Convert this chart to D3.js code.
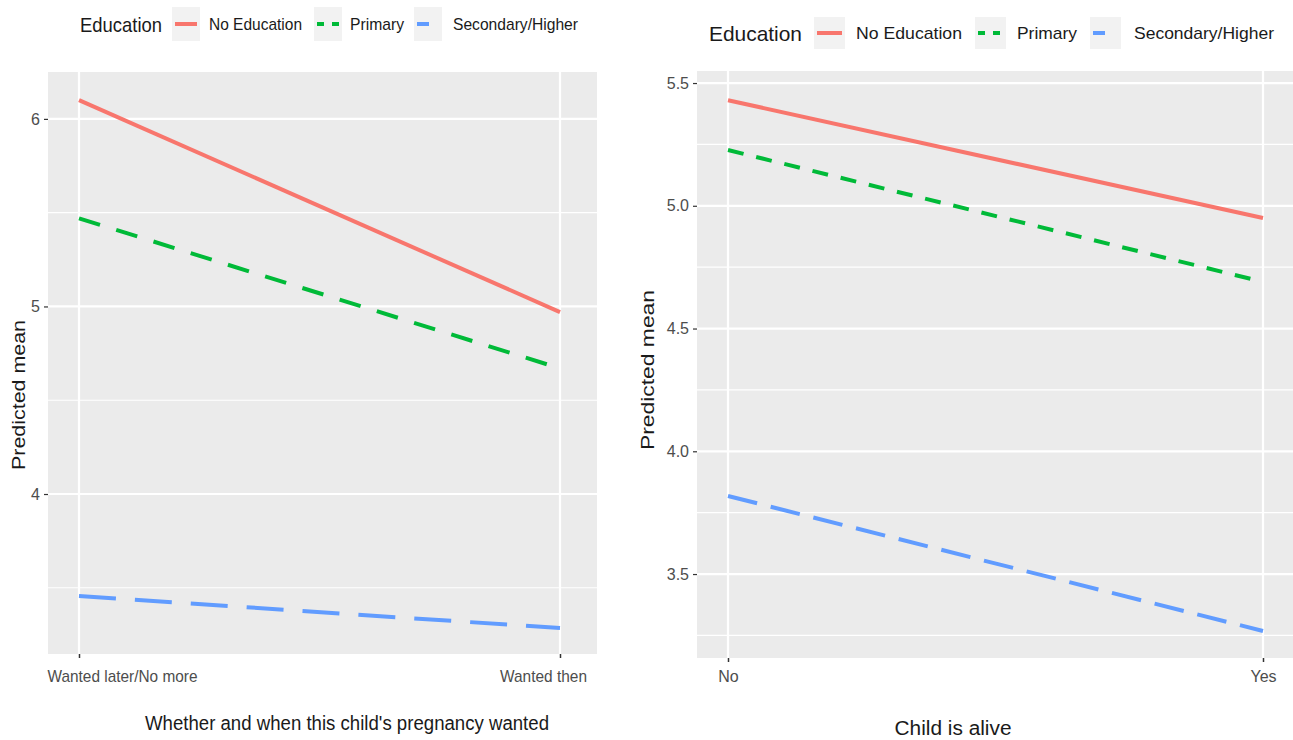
<!DOCTYPE html>
<html>
<head>
<meta charset="utf-8">
<script src="https://cdn.jsdelivr.net/npm/d3@7"></script>
<style>
  body { margin: 0; background: #fff; }
  text { font-family: "Liberation Sans", Arial, sans-serif; }
</style>
</head>
<body>
<svg width="1293" height="740"></svg>
<script>
// --- data ---
const educationLevels = ["No Education", "Primary", "Secondary/Higher"];
const educationColors = ["#F8766D", "#00BA38", "#619CFF"];

const wantedCategories = ["Wanted later/No more", "Wanted then"];
const wantedNoEducation = [6.10, 4.97];
const wantedPrimary = [5.47, 4.67];
const wantedSecondary = [3.456, 3.285];
const wantedTicks = [4, 5, 6];

const aliveCategories = ["No", "Yes"];
const aliveNoEducation = [5.43, 4.95];
const alivePrimary = [5.227, 4.69];
const aliveSecondary = [3.818, 3.268];
const aliveTicks = [3.5, 4.0, 4.5, 5.0, 5.5];

const svg = d3.select("svg");

// squeeze/stretch text to a given width like the picture
function fit(sel, len) {
  if (len) sel.attr("textLength", len).attr("lengthAdjust", "spacingAndGlyphs");
  return sel;
}

function drawPanel(p) {
  const g = svg.append("g");

  const x = d3.scalePoint().domain(p.cats).range(p.xRange);
  const y = d3.scaleLinear().domain(p.yDomain).range([p.bottom, p.top]);

  g.append("rect")
    .attr("x", p.left).attr("y", p.top)
    .attr("width", p.right - p.left).attr("height", p.bottom - p.top)
    .attr("fill", "#EBEBEB");

  // minor grid (half way between major ticks)
  const step = p.ticks[1] - p.ticks[0];
  const minor = [p.ticks[0] - step / 2].concat(p.ticks.map(t => t + step / 2))
    .filter(v => v > p.yDomain[0] && v < p.yDomain[1]);
  g.selectAll(".minor").data(minor).enter().append("line")
    .attr("x1", p.left).attr("x2", p.right)
    .attr("y1", d => y(d)).attr("y2", d => y(d))
    .attr("stroke", "#fff").attr("stroke-width", 1.1);

  g.selectAll(".hmajor").data(p.ticks).enter().append("line")
    .attr("x1", p.left).attr("x2", p.right)
    .attr("y1", d => y(d)).attr("y2", d => y(d))
    .attr("stroke", "#fff").attr("stroke-width", 2.2);

  g.selectAll(".vmajor").data(p.cats).enter().append("line")
    .attr("x1", d => x(d)).attr("x2", d => x(d))
    .attr("y1", p.top).attr("y2", p.bottom)
    .attr("stroke", "#fff").attr("stroke-width", 2.2);

  // axes
  const yAxis = g.append("g")
    .attr("transform", `translate(${p.left},0)`)
    .call(d3.axisLeft(y).tickValues(p.ticks).tickFormat(p.fmt).tickSize(4).tickPadding(4));
  yAxis.select(".domain").remove();
  yAxis.selectAll(".tick line").attr("stroke", "#333").attr("stroke-width", 1.2);
  yAxis.selectAll(".tick text").attr("fill", "#4D4D4D").style("font-size", "16px");

  const xAxis = g.append("g")
    .attr("transform", `translate(0,${p.bottom})`)
    .call(d3.axisBottom(x).tickSize(4).tickPadding(p.xTickPad));
  xAxis.select(".domain").remove();
  xAxis.selectAll(".tick line").attr("stroke", "#333").attr("stroke-width", 1.5);
  xAxis.selectAll(".tick text")
    .attr("fill", "#4D4D4D").style("font-size", p.xTickSize)
    .attr("dx", (d, i) => p.xTickShift[i])
    .each(function (d, i) { fit(d3.select(this), p.xTickLen[i]); });

  // series
  const series = [p.noEdu, p.primary, p.secondary];
  const line = d3.line().x((d, i) => x(p.cats[i])).y(d => y(d));
  g.selectAll(".series").data(series).enter().append("path")
    .attr("d", d => line(d))
    .attr("fill", "none")
    .attr("stroke", (d, i) => educationColors[i])
    .attr("stroke-width", 4)
    .attr("stroke-dasharray", (d, i) => p.dashes[i]);

  // titles
  fit(svg.append("text")
    .attr("x", p.xTitle[0]).attr("y", p.xTitle[1])
    .attr("text-anchor", "middle").attr("dominant-baseline", "central")
    .style("font-size", "20px").attr("fill", "#1a1a1a")
    .text(p.xLabel), p.xTitle[2]);

  fit(svg.append("text")
    .attr("transform", `translate(${p.yTitle[0]},${p.yTitle[1]}) rotate(-90)`)
    .attr("text-anchor", "middle").attr("dominant-baseline", "central")
    .style("font-size", "19px").attr("fill", "#1a1a1a")
    .text("Predicted mean"), p.yTitle[2]);

  // legend
  const L = p.legend;
  fit(svg.append("text")
    .attr("x", L.titleX).attr("y", L.cy)
    .attr("dominant-baseline", "central")
    .style("font-size", "21px").attr("fill", "#1a1a1a")
    .text("Education"), L.titleLen);

  educationLevels.forEach((lvl, i) => {
    const bx = L.boxX[i];
    svg.append("rect")
      .attr("x", bx).attr("y", L.cy - L.boxH / 2)
      .attr("width", L.boxW).attr("height", L.boxH)
      .attr("fill", "#F2F2F2");
    svg.append("line")
      .attr("x1", bx + 3).attr("x2", bx + L.boxW - 3)
      .attr("y1", L.cy).attr("y2", L.cy)
      .attr("stroke", educationColors[i]).attr("stroke-width", 4)
      .attr("stroke-dasharray", L.keyDash[i]);
    fit(svg.append("text")
      .attr("x", L.labelX[i]).attr("y", L.cy)
      .attr("dominant-baseline", "central")
      .style("font-size", "17px").attr("fill", "#1a1a1a")
      .text(lvl), L.labelLen[i]);
  });
}

drawPanel({
  cats: wantedCategories,
  noEdu: wantedNoEducation, primary: wantedPrimary, secondary: wantedSecondary,
  ticks: wantedTicks, fmt: d3.format("d"),
  left: 48, right: 597, top: 72, bottom: 654,
  xRange: [79, 560], yDomain: [3.147, 6.25],
  dashes: [null, "22,17", "37,19"],
  xTickSize: "17px", xTickPad: 12, xTickShift: [43, -17], xTickLen: [150, 87],
  xLabel: "Whether and when this child's pregnancy wanted",
  xTitle: [347, 723, 404],
  yTitle: [18, 395, 150],
  legend: {
    cy: 24, titleX: 80, titleLen: 82,
    boxX: [172, 314, 414], boxW: 28, boxH: 34,
    labelX: [209, 350, 453], labelLen: [93, 54, 125],
    keyDash: [null, "7,8", "12,30"]
  }
});

drawPanel({
  cats: aliveCategories,
  noEdu: aliveNoEducation, primary: alivePrimary, secondary: aliveSecondary,
  ticks: aliveTicks, fmt: d3.format(".1f"),
  left: 697, right: 1293, top: 71, bottom: 658,
  xRange: [728, 1263], yDomain: [3.158, 5.549],
  dashes: [null, "16,13", "30,14"],
  xTickSize: "16px", xTickPad: 9, xTickShift: [0, 0], xTickLen: [null, null],
  xLabel: "Child is alive",
  xTitle: [953, 728, 117],
  yTitle: [647, 370, 160],
  legend: {
    cy: 33, titleX: 709, titleLen: 93,
    boxX: [814, 975, 1090], boxW: 31, boxH: 32,
    labelX: [856, 1017, 1134], labelLen: [106, 60, 140],
    keyDash: [null, "7,8", "12,30"]
  }
});
</script>
</body>
</html>
